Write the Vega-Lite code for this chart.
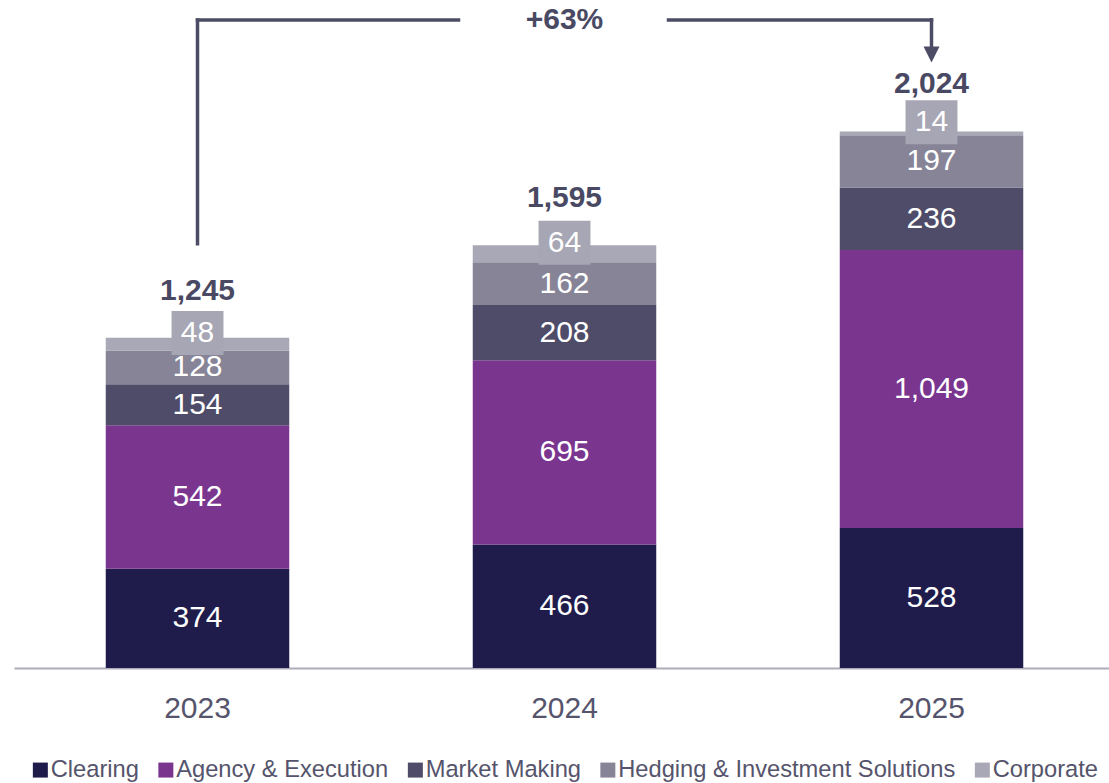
{
  "$schema": "https://vega.github.io/schema/vega-lite/v6.json",
  "width": 1095,
  "height": 668,
  "autosize": {"type": "none"},
  "padding": {"left": 14, "top": 0, "right": 0, "bottom": 115},
  "config": {"view": {"stroke": null}, "font": "Liberation Sans"},
  "datasets": {
    "segments": [
      {"year": "2023", "series": "Clearing", "value": 374, "order": 1},
      {"year": "2023", "series": "Agency & Execution", "value": 542, "order": 2},
      {"year": "2023", "series": "Market Making", "value": 154, "order": 3},
      {"year": "2023", "series": "Hedging & Investment Solutions", "value": 128, "order": 4},
      {"year": "2023", "series": "Corporate", "value": 48, "order": 5},
      {"year": "2024", "series": "Clearing", "value": 466, "order": 1},
      {"year": "2024", "series": "Agency & Execution", "value": 695, "order": 2},
      {"year": "2024", "series": "Market Making", "value": 208, "order": 3},
      {"year": "2024", "series": "Hedging & Investment Solutions", "value": 162, "order": 4},
      {"year": "2024", "series": "Corporate", "value": 64, "order": 5},
      {"year": "2025", "series": "Clearing", "value": 528, "order": 1},
      {"year": "2025", "series": "Agency & Execution", "value": 1049, "order": 2},
      {"year": "2025", "series": "Market Making", "value": 236, "order": 3},
      {"year": "2025", "series": "Hedging & Investment Solutions", "value": 197, "order": 4},
      {"year": "2025", "series": "Corporate", "value": 14, "order": 5}
    ],
    "totals": [
      {"year": "2023", "total": 1245},
      {"year": "2024", "total": 1595},
      {"year": "2025", "total": 2024}
    ]
  },
  "encoding": {
    "x": {
      "field": "year", "type": "nominal",
      "scale": {"range": [0, 1101], "paddingInner": 0.5, "paddingOuter": 0.25},
      "axis": {"title": null, "labelAngle": 0, "labelFontSize": 30, "labelColor": "#55546c", "labelFont": "Liberation Sans", "ticks": false, "tickSize": 0, "labelPadding": 25, "domainColor": "#adacba", "domainWidth": 2}
    }
  },
  "layer": [
    {
      "data": {"name": "segments"},
      "mark": {"type": "bar"},
      "encoding": {
        "y": {"field": "value", "type": "quantitative", "stack": "zero", "scale": {"domain": [0, 2520], "nice": false, "zero": true}, "axis": null},
        "color": {
          "field": "series", "type": "nominal",
          "scale": {
            "domain": ["Clearing", "Agency & Execution", "Market Making", "Hedging & Investment Solutions", "Corporate"],
            "range": ["#1f1c4c", "#7a368f", "#4e4c69", "#868496", "#a9a8b6"]
          },
          "legend": {"title": null, "orient": "none", "legendX": 14.5, "legendY": 758, "direction": "horizontal", "symbolType": "square", "symbolSize": 225, "symbolStrokeWidth": 0, "labelFontSize": 23.7, "labelColor": "#55546c", "labelFont": "Liberation Sans", "labelLimit": 500, "columnPadding": 14.5, "labelOffset": -1.5, "padding": 0}
        },
        "order": {"field": "order"}
      }
    },
    {
      "data": {"name": "segments"},
      "mark": {"type": "text", "color": "white", "fontSize": 30, "baseline": "middle"},
      "encoding": {
        "y": {"field": "value", "type": "quantitative", "stack": "zero", "bandPosition": 0.5, "scale": {"domain": [0, 2520], "nice": false}, "axis": null},
        "detail": {"field": "series"},
        "order": {"field": "order"},
        "text": {"field": "value", "type": "quantitative", "format": ","},
        "opacity": {"condition": {"test": "datum.series !== 'Corporate'", "value": 1}, "value": 0}
      }
    },
    {
      "data": {"name": "segments"},
      "mark": {"type": "point", "filled": true, "color": "#a7a6b4", "shape": "M-1.18,-1L1.18,-1L1.18,1L-1.18,1Z", "size": 1936, "yOffset": -11, "strokeWidth": 0},
      "encoding": {
        "y": {"field": "value", "type": "quantitative", "stack": "zero", "bandPosition": 0.5, "scale": {"domain": [0, 2520], "nice": false}, "axis": null},
        "detail": {"field": "series"},
        "order": {"field": "order"},
        "opacity": {"condition": {"test": "datum.series === 'Corporate'", "value": 1}, "value": 0}
      }
    },
    {
      "data": {"name": "segments"},
      "mark": {"type": "text", "color": "white", "fontSize": 30, "baseline": "middle", "yOffset": -11},
      "encoding": {
        "y": {"field": "value", "type": "quantitative", "stack": "zero", "bandPosition": 0.5, "scale": {"domain": [0, 2520], "nice": false}, "axis": null},
        "detail": {"field": "series"},
        "order": {"field": "order"},
        "text": {"field": "value", "type": "quantitative", "format": ","},
        "opacity": {"condition": {"test": "datum.series === 'Corporate'", "value": 1}, "value": 0}
      }
    },
    {
      "data": {"name": "totals"},
      "mark": {"type": "text", "color": "#4a4963", "fontSize": 30, "fontWeight": "bold", "baseline": "middle", "yOffset": -47},
      "encoding": {
        "y": {"field": "total", "type": "quantitative", "scale": {"domain": [0, 2520], "nice": false}, "axis": null},
        "text": {"field": "total", "type": "quantitative", "format": ","}
      }
    },
    {
      "data": {"values": [{"year": "2023", "ya": 1600, "yb": 2445}]},
      "mark": {"type": "rule", "color": "#4d4c66", "strokeWidth": 3.5, "strokeCap": "square"},
      "encoding": {
        "y": {"field": "ya", "type": "quantitative", "scale": {"domain": [0, 2520], "nice": false}, "axis": null},
        "y2": {"field": "yb"}
      }
    },
    {
      "data": {"values": [{"year": "2023", "year2": "2024", "ya": 2445}]},
      "mark": {"type": "rule", "color": "#4d4c66", "strokeWidth": 3.5, "strokeCap": "square", "x2Offset": -106},
      "encoding": {
        "x2": {"field": "year2"},
        "y": {"field": "ya", "type": "quantitative", "scale": {"domain": [0, 2520], "nice": false}, "axis": null}
      }
    },
    {
      "data": {"values": [{"year": "2024", "year2": "2025", "ya": 2445}]},
      "mark": {"type": "rule", "color": "#4d4c66", "strokeWidth": 3.5, "strokeCap": "square", "xOffset": 104},
      "encoding": {
        "x2": {"field": "year2"},
        "y": {"field": "ya", "type": "quantitative", "scale": {"domain": [0, 2520], "nice": false}, "axis": null}
      }
    },
    {
      "data": {"values": [{"year": "2025", "ya": 2445, "yb": 2340}]},
      "mark": {"type": "rule", "color": "#4d4c66", "strokeWidth": 3.5, "strokeCap": "square"},
      "encoding": {
        "y": {"field": "ya", "type": "quantitative", "scale": {"domain": [0, 2520], "nice": false}, "axis": null},
        "y2": {"field": "yb"}
      }
    },
    {
      "data": {"values": [{"year": "2025", "ya": 2314}]},
      "mark": {"type": "point", "filled": true, "color": "#4d4c66", "opacity": 1, "shape": "M-1,-1L1,-1L0,1Z", "size": 256, "strokeWidth": 0},
      "encoding": {
        "y": {"field": "ya", "type": "quantitative", "scale": {"domain": [0, 2520], "nice": false}, "axis": null}
      }
    },
    {
      "data": {"values": [{"year": "2024", "ya": 2445, "label": "+63%"}]},
      "mark": {"type": "text", "color": "#4a4963", "fontSize": 30, "fontWeight": "bold", "baseline": "middle"},
      "encoding": {
        "y": {"field": "ya", "type": "quantitative", "scale": {"domain": [0, 2520], "nice": false}, "axis": null},
        "text": {"field": "label"}
      }
    }
  ]
}
